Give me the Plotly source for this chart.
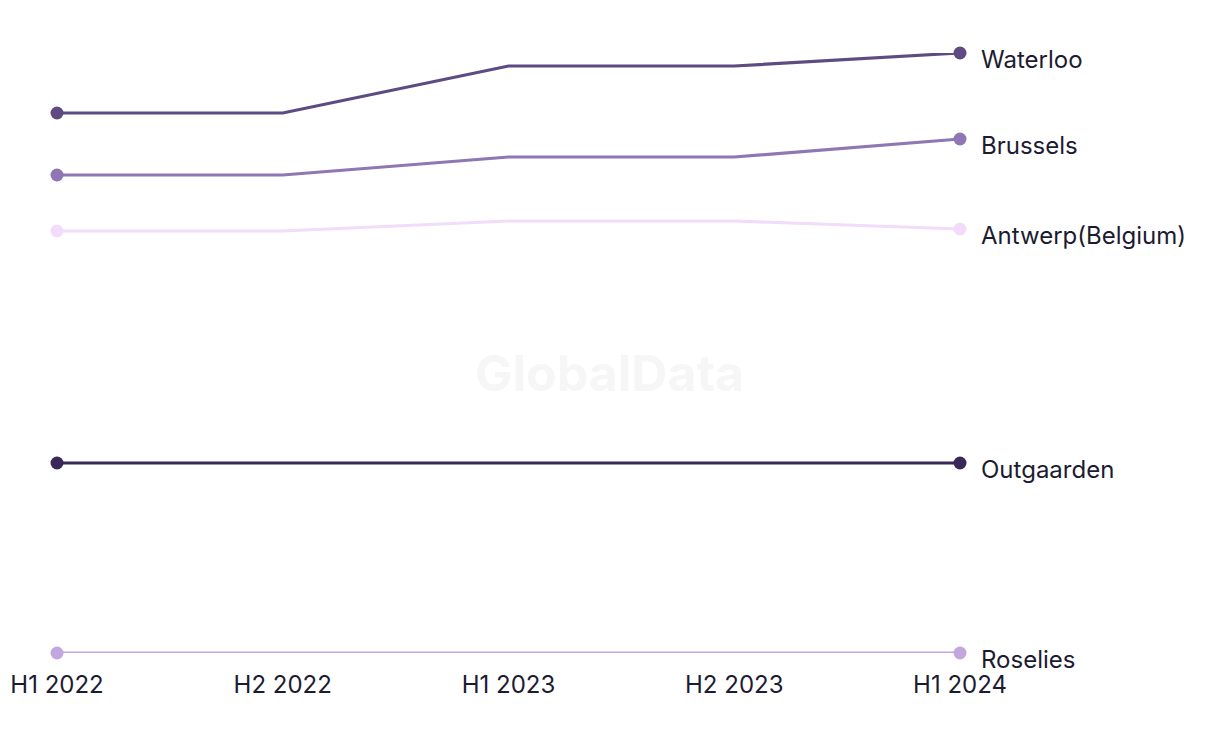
import plotly.graph_objects as go

periods = ["H1 2022", "H2 2022", "H1 2023", "H2 2023", "H1 2024"]
series_names = ["Waterloo", "Brussels", "Antwerp(Belgium)", "Outgaarden", "Roselies"]
waterloo = [54.0, 54.0, 58.7, 58.7, 60.0]
brussels = [47.8, 47.8, 49.6, 49.6, 51.4]
antwerp = [42.2, 42.2, 43.2, 43.2, 42.4]
outgaarden = [19.0, 19.0, 19.0, 19.0, 19.0]
roselies = [0.0, 0.0, 0.0, 0.0, 0.0]

values = [waterloo, brussels, antwerp, outgaarden, roselies]
colors = ["#5e4b82", "#8e77b2", "#f1dcfa", "#3a2858", "#c2a6e0"]

FONT = "Inter, Roboto, sans-serif"
TEXT = "#1d1b31"

fig = go.Figure()
xs = list(range(len(periods)))
ends = [xs[0], xs[-1]]
for name, vals, col in zip(series_names, values, colors):
    fig.add_trace(go.Scatter(
        x=xs, y=vals, mode="lines", name=name,
        line=dict(color=col, width=3.2),
        cliponaxis=False, showlegend=False, hoverinfo="skip",
    ))
    fig.add_trace(go.Scatter(
        x=ends, y=[vals[0], vals[-1]], mode="markers", name=name,
        marker=dict(color=col, size=13, opacity=1, line=dict(width=0)),
        cliponaxis=False, showlegend=False, hoverinfo="skip",
    ))
    fig.add_annotation(
        x=xs[-1], y=vals[-1], text=name, showarrow=False,
        xanchor="left", yanchor="middle", xshift=19, yshift=-6,
        font=dict(family=FONT, size=24, color=TEXT),
    )

fig.add_annotation(
    x=0.612, y=0.467, xref="paper", yref="paper", text="<b>GlobalData</b>",
    showarrow=False, font=dict(family=FONT, size=50, color="#f6f6f6"),
    xanchor="center", yanchor="middle",
)

fig.update_layout(
    width=1220, height=744,
    margin=dict(l=49, r=268, t=45, b=99, autoexpand=False),
    paper_bgcolor="white", plot_bgcolor="white",
    xaxis=dict(
        tickmode="array", tickvals=xs, ticktext=periods, range=[0, len(xs) - 1],
        showgrid=False, zeroline=False, showline=False, ticks="",
        tickfont=dict(family=FONT, size=24, color=TEXT),
        ticklabelstandoff=15, automargin=False,
    ),
    yaxis=dict(range=[0, 60], visible=False, showgrid=False, zeroline=False,
               automargin=False),
)

fig.write_html("out.html")
